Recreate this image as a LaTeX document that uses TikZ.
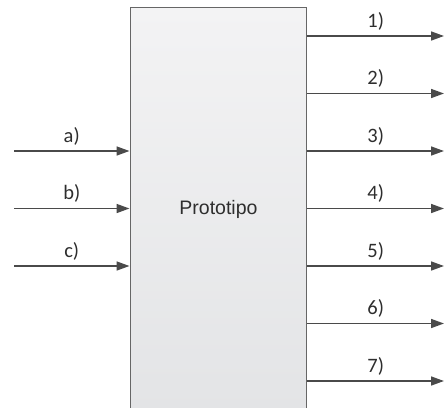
\documentclass[tikz,border=0pt]{standalone}
\usepackage{fontspec}
\setmainfont{Carlito}
\newfontfamily\boxfont{Liberation Sans}
\usetikzlibrary{arrows.meta,positioning}
\definecolor{EdgeGrey}{HTML}{666666}
\definecolor{ArrowGrey}{HTML}{4A4A4A}
\definecolor{TextGrey}{HTML}{2E2E2E}
\definecolor{FillTop}{HTML}{F3F3F4}
\definecolor{FillBottom}{HTML}{E3E4E6}
\tikzset{
  signal/.style={ArrowGrey,line width=1.6pt,-{Triangle[length=13pt,width=9pt]}},
  siglabel/.style={font=\fontsize{20.5}{22}\selectfont,text=TextGrey,inner sep=0pt}
}
\begin{document}
\begin{tikzpicture}[x=1pt,y=-1pt]
 \useasboundingbox (0,0) rectangle (444,407);
 \clip (0,0) rectangle (444,407);
 % block, open at the bottom edge
 \node[draw=EdgeGrey,line width=1.4pt,top color=FillTop,bottom color=FillBottom,
   minimum width=176.5pt,minimum height=404pt,anchor=north west,inner sep=0pt,
   font=\boxfont\fontsize{19.5}{22}\selectfont,text=TextGrey] (proto) at (129.5,7) {Prototipo};
 % inputs
 \foreach \lab [count=\i] in {a,b,c}{
   \coordinate (in\i) at (14,{151+57.5*(\i-1)});
   \draw[signal] (in\i) -- (proto.west |- in\i) node[siglabel,midway,above=5pt] {\lab)};}
 % outputs
 \foreach \n in {1,...,7}{
   \coordinate (out\n) at (444,{36+57.5*(\n-1)});
   \draw[signal] (proto.east |- out\n) -- (out\n) node[siglabel,midway,above=5pt] {\n)};}
\end{tikzpicture}
\end{document}
